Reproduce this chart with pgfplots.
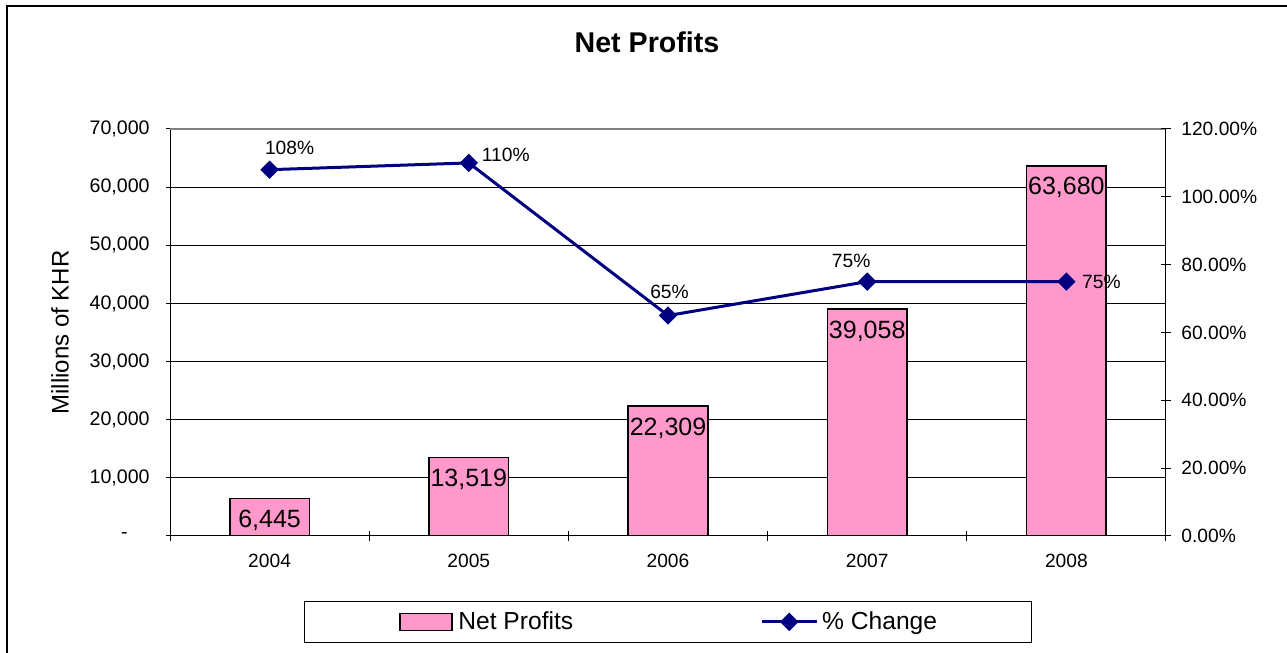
\documentclass[border=0pt]{standalone}
\usepackage{pgfplots}
\pgfplotsset{compat=1.18}
\usepackage{fontspec}
\setmainfont{Liberation Sans}
\definecolor{barpink}{HTML}{FF99CC}
\definecolor{navyline}{HTML}{000080}
\pgfplotsset{
  navylegend/.style={legend image code/.code={\draw[##1, mark repeat=2, mark phase=2] plot coordinates {(0pt,0pt) (13.75pt,0pt) (27.5pt,0pt)};\path (27.5pt,0pt);}},
  pinklegend/.style={legend image code/.code={\path (-2.25pt,0pt);\draw[fill=barpink,draw=black,line width=0.8pt] (0pt,-4.25pt) rectangle (26pt,4.25pt);\path (27pt,0pt);}},
  lbl/.style={draw=none, forget plot, nodes near coords style={anchor=center, font=\fontsize{9.6pt}{11pt}\selectfont, black}},
}
\begin{document}
\begin{tikzpicture}[x=1pt,y=1pt]
\useasboundingbox (0,0) rectangle (643.5,326.5);
\draw[line width=1pt] (3.5,0) -- (3.5,323.5) -- (643.5,323.5);
\begin{axis}[
  at={(85pt,58.5pt)}, anchor=south west,
  scale only axis, width=498pt, height=203.5pt,
  xmin=-0.5, xmax=4.5, ymin=0, ymax=70000,
  scaled y ticks=false,
  axis x line*=bottom, axis y line*=left,
  axis line style={line width=0.5pt,-},
  tick align=center, tick style={black, line width=0.5pt},
  major tick length=4pt, minor tick length=5pt,
  xtick={0,1,2,3,4}, xticklabels={2004,2005,2006,2007,2008},
  major x tick style={draw=none},
  minor xtick={-0.5,0.5,1.5,2.5,3.5,4.5},
  ytick={0,10000,20000,30000,40000,50000,60000,70000},
  yticklabels={{-\kern11pt},{10,000},{20,000},{30,000},{40,000},{50,000},{60,000},{70,000}},
  ymajorgrids, major grid style={black, line width=0.5pt},
  yticklabel style={font=\fontsize{9.8pt}{11pt}\selectfont, inner sep=0pt, anchor=east, xshift=-8pt},
  xticklabel style={font=\fontsize{9.6pt}{11pt}\selectfont, inner sep=0pt, anchor=north, yshift=-7pt},
  ylabel={Millions of KHR},
  every axis y label/.style={at={(rel axis cs:0,0.5)}, xshift=-55pt, rotate=90, anchor=center, font=\fontsize{12pt}{14pt}\selectfont},
  title={\bfseries Net Profits},
  title style={at={(rel axis cs:0.5,1)}, anchor=center, yshift=37.5pt, xshift=-10.5pt, font=\fontsize{14.3pt}{16pt}\selectfont},
  /pgf/number format/assume math mode=true,
]
\addplot[ybar, bar width=0.4, fill=barpink, draw=black, line width=0.8pt,
  nodes near coords={\pgfmathprintnumber[1000 sep={,}]{\pgfplotspointmeta}},
  nodes near coords style={anchor=center, yshift=-11pt, font=\fontsize{12.5pt}{14pt}\selectfont, black}]
  coordinates {(0,6445) (1,13519) (2,22309) (3,39058) (4,63680)};
\draw[gray, line width=0.6pt] (rel axis cs:0,1) -- (rel axis cs:1,1);
\end{axis}
\begin{axis}[
  at={(85pt,58.5pt)}, anchor=south west,
  scale only axis, width=498pt, height=203.5pt,
  xmin=-0.5, xmax=4.5, ymin=0, ymax=120,
  axis y line*=right, axis x line=none,
  axis line style={line width=0.5pt,-},
  tick align=center, tick style={black, line width=0.5pt},
  major tick length=5pt,
  ytick={0,20,40,60,80,100,120},
  yticklabels={0.00\%,20.00\%,40.00\%,60.00\%,80.00\%,100.00\%,120.00\%},
  yticklabel style={font=\fontsize{9.6pt}{11pt}\selectfont, inner sep=0pt, anchor=west, xshift=5pt},
  legend columns=2,
  legend style={at={(0.5,-0.1597)}, anchor=north, draw=black, line width=0.5pt,
    font=\fontsize{12.3pt}{14pt}\selectfont, inner xsep=45.25pt, inner ysep=3pt,
    /tikz/every even column/.append style={column sep=91.5pt}},
]
\addlegendimage{pinklegend}
\addlegendentry{Net Profits}
\addplot[navyline, line width=1.5pt, mark=square*, mark size=3pt,
  mark options={rotate=45, solid, line width=0.5pt, fill=navyline}, navylegend]
  coordinates {(0,108) (1,110) (2,65) (3,75) (4,75)};
\addlegendentry{\% Change}
\addplot[lbl, nodes near coords={108\%}, nodes near coords style={xshift=10pt, yshift=11pt}] coordinates {(0,108)};
\addplot[lbl, nodes near coords={110\%}, nodes near coords style={xshift=18.5pt, yshift=4pt}] coordinates {(1,110)};
\addplot[lbl, nodes near coords={65\%}, nodes near coords style={xshift=0.75pt, yshift=11.75pt}] coordinates {(2,65)};
\addplot[lbl, nodes near coords={75\%}, nodes near coords style={xshift=-8pt, yshift=10.5pt}] coordinates {(3,75)};
\addplot[lbl, nodes near coords={75\%}, nodes near coords style={xshift=17.5pt, yshift=0pt}] coordinates {(4,75)};
\end{axis}
\end{tikzpicture}
\end{document}
